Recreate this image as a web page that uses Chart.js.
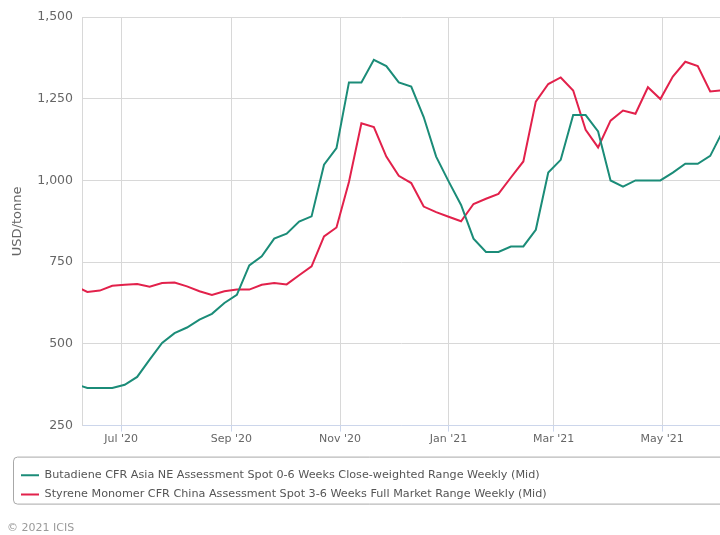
<!DOCTYPE html>
<html>
<head>
<meta charset="utf-8">
<script src="https://cdn.jsdelivr.net/npm/chart.js@4.4.0/dist/chart.umd.min.js"></script>
<style>
  html, body { margin: 0; padding: 0; background: #fff; }
  #wrap { width: 720px; height: 535px; position: relative; }
</style>
</head>
<body>
<div id="wrap"><canvas id="priceChart"></canvas></div>
<script>
// weekly assessment dates (Fridays)
const weeks = [
  '2020-06-05', '2020-06-12', '2020-06-19', '2020-06-26',
  '2020-07-03', '2020-07-10', '2020-07-17', '2020-07-24', '2020-07-31',
  '2020-08-07', '2020-08-14', '2020-08-21', '2020-08-28',
  '2020-09-04', '2020-09-11', '2020-09-18', '2020-09-25',
  '2020-10-02', '2020-10-09', '2020-10-16', '2020-10-23', '2020-10-30',
  '2020-11-06', '2020-11-13', '2020-11-20', '2020-11-27',
  '2020-12-04', '2020-12-11', '2020-12-18', '2020-12-25',
  '2021-01-01', '2021-01-08', '2021-01-15', '2021-01-22', '2021-01-29',
  '2021-02-05', '2021-02-12', '2021-02-19', '2021-02-26',
  '2021-03-05', '2021-03-12', '2021-03-19', '2021-03-26',
  '2021-04-02', '2021-04-09', '2021-04-16', '2021-04-23', '2021-04-30',
  '2021-05-07', '2021-05-14', '2021-05-21', '2021-05-28',
  '2021-06-04'
];

const butadiene = [
  378, 365, 365, 365,
  375, 399, 452, 503, 533,
  550, 574, 592, 625,
  650, 740, 768, 822,
  837, 874, 890, 1048, 1099,
  1300, 1300, 1369, 1350,
  1300, 1287, 1194, 1073,
  997, 925, 822, 781, 781,
  798, 798, 849, 1024,
  1063, 1200, 1200, 1150,
  1000, 981, 1000, 1000, 1000,
  1024, 1051, 1051, 1075,
  1150
];

const styrene = [
  677, 659, 663, 678,
  681, 683, 675, 686, 688,
  676, 661, 650, 661,
  666, 666, 681, 686,
  682, 710, 737, 829, 856,
  995, 1175, 1163, 1073,
  1014, 992, 920, 903,
  889, 875, 928, 944, 959,
  1009, 1058, 1241, 1295,
  1315, 1275, 1155, 1101,
  1183, 1214, 1204, 1285, 1249,
  1318, 1363, 1350, 1272,
  1276
];

const tickDates = ['2020-07-01', '2020-09-01', '2020-11-01', '2021-01-01', '2021-03-01', '2021-05-01'];
const tickLabels = ["Jul '20", "Sep '20", "Nov '20", "Jan '21", "Mar '21", "May '21"];

const seriesNames = [
  'Butadiene CFR Asia NE Assessment Spot 0-6 Weeks Close-weighted Range Weekly (Mid)',
  'Styrene Monomer CFR China Assessment Spot 3-6 Weeks Full Market Range Weekly (Mid)'
];

// days since 1 Jul 2020
const dayZero = Date.UTC(2020, 6, 1);
function toDay(s) {
  const p = s.split('-');
  return (Date.UTC(+p[0], +p[1] - 1, +p[2]) - dayZero) / 86400000;
}

const font = "'DejaVu Sans', Verdana, sans-serif";
const gridColor = '#d8d8d8';

// legend frame + copyright line
const frame = {
  id: 'frame',
  afterLayout(chart) {
    chart.legend.left = 13;
  },
  afterDraw(chart) {
    const ctx = chart.ctx;
    const lg = chart.legend;
    ctx.save();
    ctx.strokeStyle = '#a8a8a8';
    ctx.lineWidth = 1;
    ctx.beginPath();
    ctx.roundRect(13.5, lg.top - 4.5, 740, 47, 4);
    ctx.stroke();
    ctx.fillStyle = '#9a9a9a';
    ctx.font = '11px ' + font;
    ctx.textBaseline = 'middle';
    ctx.fillText('\u00A9 2021 ICIS', 7, 528);
    ctx.restore();
  }
};

const ctx = document.getElementById('priceChart').getContext('2d');
new Chart(ctx, {
  type: 'line',
  data: {
    datasets: [{
      label: seriesNames[0],
      data: weeks.map((w, i) => ({x: toDay(w), y: butadiene[i]})),
      borderColor: '#1b8c78',
      backgroundColor: '#1b8c78',
      borderWidth: 2,
      pointRadius: 0,
      tension: 0
    }, {
      label: seriesNames[1],
      data: weeks.map((w, i) => ({x: toDay(w), y: styrene[i]})),
      borderColor: '#e2214b',
      backgroundColor: '#e2214b',
      borderWidth: 2,
      pointRadius: 0,
      tension: 0
    }]
  },
  options: {
    responsive: true,
    maintainAspectRatio: false,
    animation: false,
    layout: {
      padding: {top: 17, right: 0, bottom: 25, left: 0}
    },
    scales: {
      x: {
        type: 'linear',
        min: -22,
        max: 336.5,
        afterBuildTicks: (scale) => {
          scale.ticks = tickDates.map(d => ({value: toDay(d)}));
        },
        afterFit: (scale) => { scale.height = 36; },
        grid: {
          color: gridColor,
          tickColor: '#ccd6eb',
          tickLength: 6
        },
        border: {color: '#ccd6eb'},
        ticks: {
          autoSkip: false,
          maxRotation: 0,
          padding: 1,
          color: '#666',
          font: {size: 11, family: font},
          callback: (v) => tickLabels[tickDates.findIndex(d => toDay(d) === v)]
        }
      },
      y: {
        min: 250,
        max: 1500,
        afterFit: (scale) => { scale.width = 82; },
        grid: {color: gridColor, drawTicks: false},
        border: {color: gridColor},
        ticks: {
          stepSize: 250,
          padding: 9,
          color: '#666',
          font: {size: 12.5, family: font},
          callback: (v) => v.toLocaleString('en-US')
        },
        title: {
          display: true,
          text: 'USD/tonne',
          color: '#666',
          padding: {top: 10, bottom: 0},
          font: {size: 13, family: font}
        }
      }
    },
    plugins: {
      legend: {
        position: 'bottom',
        align: 'start',
        labels: {
          usePointStyle: true,
          pointStyle: 'line',
          pointStyleWidth: 18,
          padding: 8,
          color: '#555',
          font: {size: 11.2, family: font}
        }
      },
      tooltip: {enabled: false}
    }
  },
  plugins: [frame]
});
</script>
</body>
</html>
